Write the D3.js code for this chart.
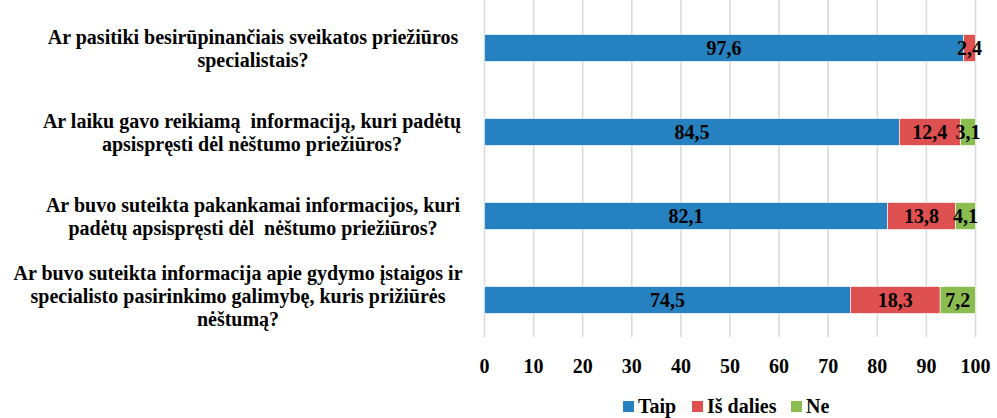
<!DOCTYPE html>
<html><head><meta charset="utf-8">
<script src="https://cdn.jsdelivr.net/npm/d3@7"></script>
<style>body{margin:0;background:#fff}svg{display:block}text{white-space:pre}</style>
</head><body><div id="chart"></div>
<script>
const categories = [
  ["Ar pasitiki besirūpinančiais sveikatos priežiūros", "specialistais?"],
  ["Ar laiku gavo reikiamą  informaciją, kuri padėtų", "apsispręsti dėl nėštumo priežiūros?"],
  ["Ar buvo suteikta pakankamai informacijos, kuri", "padėtų apsispręsti dėl  nėštumo priežiūros?"],
  ["Ar buvo suteikta informacija apie gydymo įstaigos ir", "specialisto pasirinkimo galimybę, kuris prižiūrės", "nėštumą?"]
];
const seriesNames = ["Taip", "Iš dalies", "Ne"];
const taip = [97.6, 84.5, 82.1, 74.5];
const isDalies = [2.4, 12.4, 13.8, 18.3];
const ne = [0, 3.1, 4.1, 7.2];
const xTicks = [0, 10, 20, 30, 40, 50, 60, 70, 80, 90, 100];
const colors = ["#2681C1", "#DF5050", "#8BBC4F"];

const W = 997, H = 418;
const font = "'Liberation Serif','Times New Roman',serif";
const svg = d3.select("#chart").append("svg").attr("width", W).attr("height", H)
  .style("font-family", font).style("font-weight", "bold");

const x = d3.scaleLinear().domain([0, 100]).range([484.5, 975.5]);
const y = d3.scaleBand().domain(d3.range(categories.length)).range([6, 342])
  .paddingInner(0.68).paddingOuter(0.34);
const gridTop = 0, gridBottom = 332;

// gridlines
svg.append("g").selectAll("line").data(xTicks).join("line")
  .attr("x1", d => x(d)).attr("x2", d => x(d))
  .attr("y1", gridTop).attr("y2", gridBottom + 5)
  .attr("stroke", "#D9D9D9").attr("stroke-width", 1.5);

// x tick labels
svg.append("g").selectAll("text").data(xTicks).join("text")
  .attr("x", d => x(d)).attr("y", 373)
  .attr("text-anchor", "middle").attr("font-size", 20).attr("fill", "#000")
  .text(d => d);

// stacked data
const series = [taip, isDalies, ne];
const stack = categories.map((c, i) => {
  let acc = 0;
  return series.map((s, k) => { const seg = {i, k, x0: acc, x1: acc + s[i], v: s[i]}; acc += s[i]; return seg; });
});
const segs = stack.flat().filter(d => d.v > 0);

svg.append("g").selectAll("rect").data(segs).join("rect")
  .attr("x", d => x(d.x0)).attr("width", d => x(d.x1) - x(d.x0))
  .attr("y", d => y(d.i)).attr("height", y.bandwidth())
  .attr("fill", d => colors[d.k])
  .attr("stroke", "#fff").attr("stroke-width", 0.6);

const fmt = v => d3.format(".1f")(v).replace(".", ",");
svg.append("g").selectAll("text").data(segs).join("text")
  .attr("x", d => (x(d.x0) + x(d.x1)) / 2)
  .attr("y", d => y(d.i) + y.bandwidth() / 2 + 7)
  .attr("text-anchor", "middle").attr("font-size", 20).attr("fill", "#000")
  .text(d => fmt(d.v));

// category labels
const labelCenters = [253, 252, 253, 238];
const lh = 23;
const lg = svg.append("g");
categories.forEach((lines, i) => {
  const cy = y(i) + y.bandwidth() / 2;
  const start = cy - (lines.length - 1) * lh / 2 + 7 - (lines.length > 2 ? 4 : 0);
  const t = lg.append("text").attr("text-anchor", "middle").attr("font-size", 20).attr("fill", "#000");
  lines.forEach((ln, j) => {
    t.append("tspan").attr("x", labelCenters[i]).attr("y", start + j * lh).text(ln);
  });
});

// legend
const legendX = [623, 692, 791];
const lgd = svg.append("g");
seriesNames.forEach((n, k) => {
  lgd.append("rect").attr("x", legendX[k]).attr("y", 401).attr("width", 11).attr("height", 11).attr("fill", colors[k]);
  lgd.append("text").attr("x", legendX[k] + 15).attr("y", 413).attr("font-size", 20).attr("fill", "#000").text(n);
});
</script></body></html>
